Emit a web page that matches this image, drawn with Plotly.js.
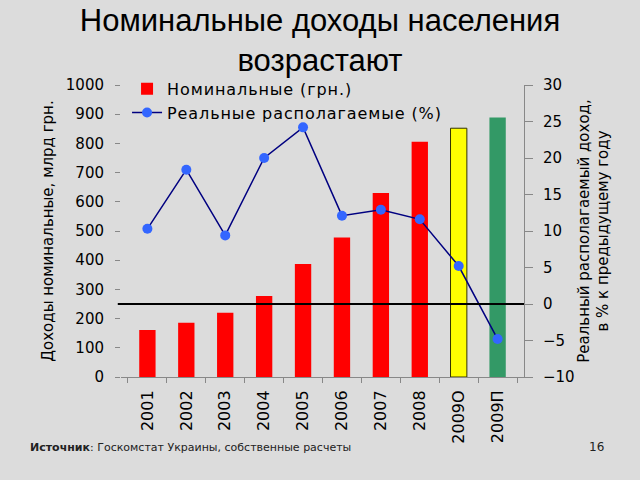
<!DOCTYPE html>
<html>
<head>
<meta charset="utf-8">
<script src="https://cdn.plot.ly/plotly-3.0.1.min.js"></script>
<style>
html, body { margin: 0; padding: 0; background: #dcdcdc; }
#chart { width: 640px; height: 480px; }
.legendtext { letter-spacing: 0.9px; }
</style>
</head>
<body>
<div id="chart"></div>
<script>
const categories = ['2001', '2002', '2003', '2004', '2005', '2006', '2007', '2008', '2009О', '2009П'];
const nominalIncome = [161, 186, 220, 277, 387, 478, 630, 806, 852, 889];
const realDisposable = [10.3, 18.4, 9.4, 20.0, 24.2, 12.1, 12.9, 11.6, 5.2, -4.8];
const barColors = ['#ff0000', '#ff0000', '#ff0000', '#ff0000', '#ff0000', '#ff0000', '#ff0000', '#ff0000', '#ffff00', '#339966'];
const barOutlineWidths = [0, 0, 0, 0, 0, 0, 0, 0, 1, 0];
const leftTicks = [0, 100, 200, 300, 400, 500, 600, 700, 800, 900, 1000];
const rightTicks = [-10, -5, 0, 5, 10, 15, 20, 25, 30];

const traces = [
  {
    type: 'bar',
    name: 'Номинальные (грн.)',
    x: categories,
    y: nominalIncome,
    yaxis: 'y',
    width: 0.42,
    marker: { color: barColors, line: { color: '#333300', width: barOutlineWidths } }
  },
  {
    type: 'scatter',
    mode: 'lines+markers',
    name: 'Реальные располагаемые (%)',
    x: categories,
    y: realDisposable,
    yaxis: 'y2',
    line: { color: '#000080', width: 1.5 },
    marker: { color: '#3366ff', size: 10 }
  }
];

const tickFont = { family: 'DejaVu Sans', size: 15, color: '#000' };

const layout = {
  width: 640,
  height: 480,
  paper_bgcolor: '#dcdcdc',
  plot_bgcolor: 'rgba(0,0,0,0)',
  margin: { l: 121, r: 116, t: 85, b: 103 },
  showlegend: true,
  title: {
    text: 'Номинальные доходы населения<br>возрастают',
    font: { family: 'Liberation Sans', size: 31, color: '#000' },
    x: 0.5, xanchor: 'center',
    y: 0.936, yref: 'container', yanchor: 'top'
  },
  legend: {
    x: 0.015, y: 1.045, xanchor: 'left', yanchor: 'top',
    bgcolor: 'rgba(0,0,0,0)',
    font: { family: 'DejaVu Sans', size: 16, color: '#000' },
    tracegroupgap: 0,
    itemwidth: 30
  },
  xaxis: {
    type: 'category',
    tickangle: -90,
    tickfont: { family: 'DejaVu Sans', size: 16, color: '#000' },
    ticklabelstandoff: 6,
    showline: true, linecolor: '#888', linewidth: 1,
    ticks: 'outside', tickson: 'boundaries', ticklen: 5, tickcolor: '#888',
    showgrid: false, zeroline: false
  },
  yaxis: {
    range: [0, 1000],
    tickvals: leftTicks,
    tickfont: tickFont,
    ticklabelstandoff: 8,
    ticks: 'outside', ticklen: 5, tickcolor: '#888',
    showline: false, showgrid: false, zeroline: false,
    title: { text: 'Доходы номинальные, млрд грн.', font: { family: 'DejaVu Sans', size: 15, color: '#000' }, standoff: 8 }
  },
  yaxis2: {
    overlaying: 'y',
    side: 'right',
    range: [-10, 30],
    tickvals: rightTicks,
    tickfont: tickFont,
    ticklabelstandoff: 7,
    ticks: 'outside', ticklen: 8, tickcolor: '#888',
    showline: true, linecolor: '#888', linewidth: 1,
    showgrid: false, zeroline: false,
    title: { text: 'Реальный располагаемый доход,<br>в % к предыдущему году', font: { family: 'DejaVu Sans', size: 15, color: '#000' }, standoff: 4 }
  },
  shapes: [
    { type: 'line', xref: 'paper', yref: 'y2', x0: -0.008, x1: 1, y0: 0, y1: 0, line: { color: '#000', width: 2 }, layer: 'above' }
  ],
  annotations: [
    { xref: 'paper', yref: 'paper', x: -0.23, y: -0.24, xanchor: 'left', yanchor: 'middle', showarrow: false,
      text: '<b>Источник</b>: Госкомстат Украины, собственные расчеты',
      font: { family: 'DejaVu Sans', size: 11, color: '#222' } },
    { xref: 'paper', yref: 'paper', x: 1.18, y: -0.24, xanchor: 'center', yanchor: 'middle', showarrow: false,
      text: '16', font: { family: 'DejaVu Sans', size: 12, color: '#222' } }
  ]
};

Plotly.newPlot('chart', traces, layout, { displayModeBar: false, staticPlot: true });
</script>
</body>
</html>
